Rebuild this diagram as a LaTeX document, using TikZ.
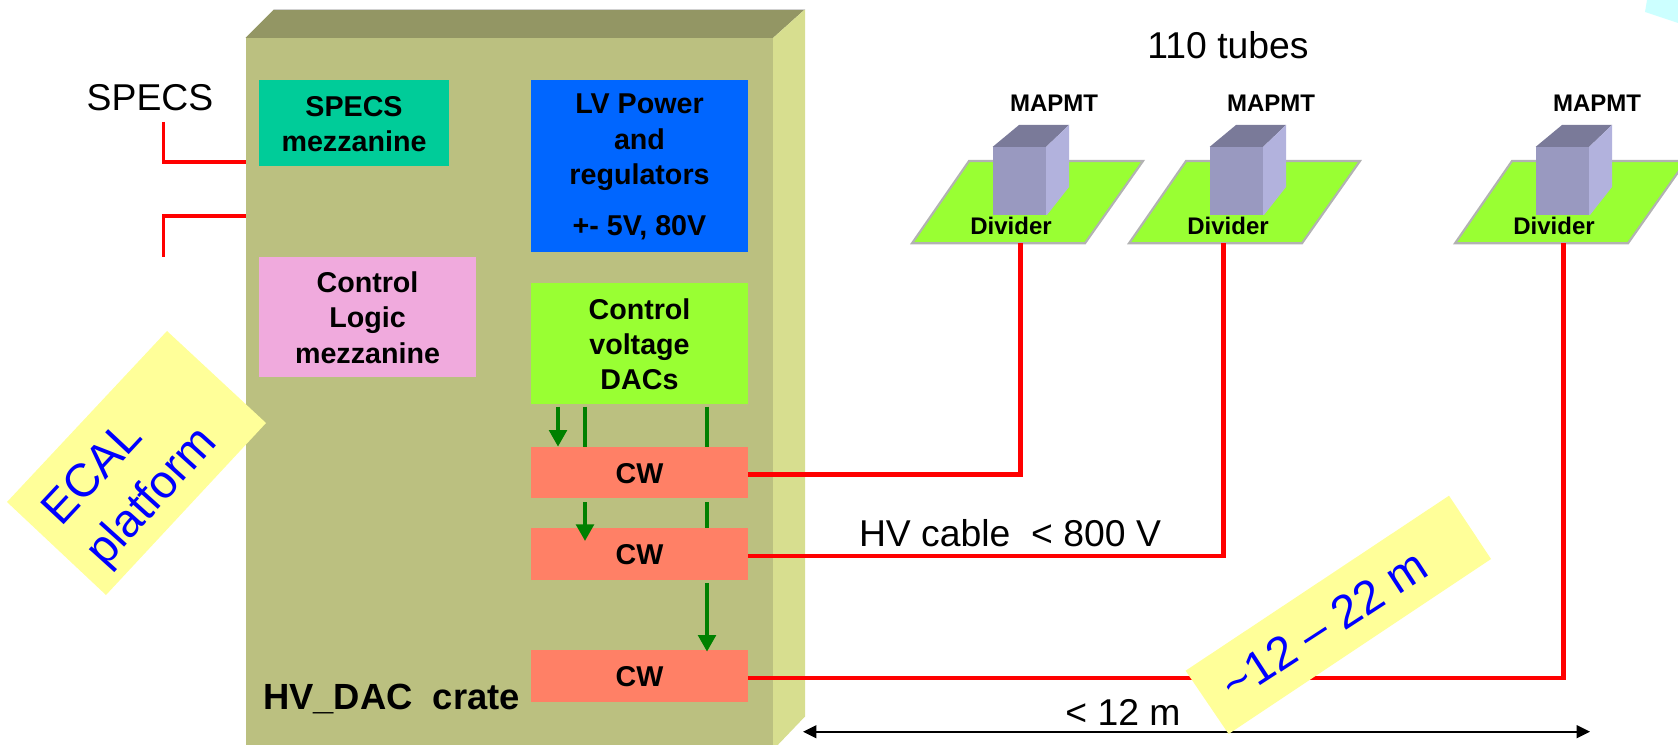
\documentclass[tikz,border=0pt]{standalone}
\usepackage{fontspec}
\setmainfont{Liberation Sans}
\usetikzlibrary{arrows.meta}
\definecolor{cratefront}{RGB}{187,192,128}
\definecolor{cratetop}{RGB}{147,150,100}
\definecolor{crateside}{RGB}{215,222,143}
\definecolor{specsc}{RGB}{0,204,153}
\definecolor{lvc}{RGB}{0,102,255}
\definecolor{logicc}{RGB}{240,170,221}
\definecolor{dacc}{RGB}{153,255,51}
\definecolor{cwc}{RGB}{255,128,102}
\definecolor{notec}{RGB}{255,255,153}
\definecolor{pmtfront}{RGB}{153,153,192}
\definecolor{pmttop}{RGB}{122,122,153}
\definecolor{pmtside}{RGB}{178,178,221}
\definecolor{edgegray}{RGB}{178,178,178}
\definecolor{sigc}{RGB}{0,128,0}
\definecolor{cornerc}{RGB}{204,255,255}
\newcommand{\dn}{\rule{0pt}{16.5pt}}
\tikzset{
  box/.style={inner sep=0pt,align=center,font=\bfseries\fontsize{21.5}{26.5}\selectfont},
  plain/.style={inner sep=0pt,font=\fontsize{28}{33}\selectfont},
  small/.style={inner sep=0pt,font=\bfseries\fontsize{18}{22}\selectfont},
  note/.style={inner sep=0pt,text=blue,font=\fontsize{35}{41}\selectfont},
  cable/.style={draw=red,line width=3.4pt},
  stub/.style={draw=red,line width=2.6pt},
  sig/.style={draw=sigc,line width=3.6pt,shorten <=1.8pt},
  sigtip/.style={sig,-{Triangle[length=12.5pt,width=13pt]}},
  span/.style={draw=black,line width=1.5pt,{Triangle[length=10pt,width=9.5pt]}-{Triangle[length=10pt,width=9.5pt]}}
}
\newcommand{\tubeunit}[3]{%
  \begin{scope}[shift={(#2,0)}]
    \draw[fill=dacc,draw=edgegray,line width=1.6pt] (912,243.3) -- (1085,243.3) -- (1143,161) -- (969,161) -- cycle;
    \fill[pmtfront] (992.5,147) rectangle (1046,215);
    \fill[pmttop] (992.5,147) -- (1019,125) -- (1069,125) -- (1046,147) -- cycle;
    \fill[pmtside] (1046,147) -- (1069,125) -- (1069,187) -- (1047,215) -- (1046,215) -- cycle;
    \node[small] (pmt#1) at (1054,103) {MAPMT};
    \node[small] (div#1) at (1011,225.5) {Divider};
    \coordinate (tap#1) at (#3,243.3);
  \end{scope}}
\begin{document}
\begin{tikzpicture}[x=0.75pt,y=-0.75pt]
\useasboundingbox (0,0) rectangle (1678,745);
\clip (0,0) rectangle (1678,745);
% corner
\fill[cornerc] (1647,0) -- (1645,12) -- (1678,23) -- (1678,0) -- cycle;
% crate
\fill[cratetop] (245.5,38) -- (274,9.3) -- (805,9.3) -- (773,38) -- cycle;
\fill[crateside] (773,38) -- (805,9.3) -- (805,716.5) -- (773,750) -- cycle;
\draw[edgegray!60,line width=0.6pt] (274,9) -- (805,9);
\node[fill=cratefront,inner sep=0pt,minimum width=527.5*0.75pt,minimum height=707*0.75pt,anchor=north west] (crate) at (245.5,38) {};
% boxes
\node[box,fill=specsc,minimum width=190*0.75pt,minimum height=86*0.75pt] (specs) at (354,123) {\dn SPECS\\mezzanine};
\node[box,fill=lvc,minimum width=217*0.75pt,minimum height=172*0.75pt] (lv) at (639.5,166) {\dn LV Power\\and\\regulators\\[12pt]+- 5V, 80V};
\node[box,fill=logicc,minimum width=217*0.75pt,minimum height=120*0.75pt] (logic) at (367.5,317) {\dn Control\\Logic\\mezzanine};
\node[box,fill=dacc,minimum width=217*0.75pt,minimum height=121*0.75pt] (dac) at (639.5,343.5) {\dn Control\\voltage\\DACs};
\node[box,fill=cwc,minimum width=217*0.75pt,minimum height=51*0.75pt] (cw1) at (639.5,472.5) {\dn CW};
\node[box,fill=cwc,minimum width=217*0.75pt,minimum height=52*0.75pt] (cw2) at (639.5,554) {\dn CW};
\node[box,fill=cwc,minimum width=217*0.75pt,minimum height=52*0.75pt] (cw3) at (639.5,676) {\dn CW};
% green control lines
\coordinate (ga) at (558,0);
\coordinate (gb) at (585,0);
\coordinate (gc) at (707,0);
\draw[sigtip] (ga |- dac.south) -- (ga |- cw1.north);
\draw[sig] (gb |- dac.south) -- (gb |- cw1.north);
\draw[sig] (gc |- dac.south) -- (gc |- cw1.north);
\draw[sigtip,shorten <=3pt,shorten >=-10pt] (gb |- cw1.south) -- (gb |- cw2.north);
\draw[sig,shorten <=3pt] (gc |- cw1.south) -- (gc |- cw2.north);
\draw[sigtip,shorten <=2pt,shorten >=-1.5pt] (gc |- cw2.south) -- (gc |- cw3.north);
% tubes
\tubeunit{a}{0}{1020.6}
\tubeunit{b}{217}{1006.7}
\tubeunit{c}{543}{1020.7}
% span arrow
\coordinate (spanL) at (803,731.7);
\coordinate (spanR) at (1590,731.7);
\draw[span] (spanL) -- (spanR);
% HV cables
\draw[cable] ([yshift=-1.6pt]cw1.east) -| (tapa);
\draw[cable] ([yshift=-1.5pt]cw2.east) -| (tapb);
\draw[cable] ([yshift=-1.5pt]cw3.east) -| (tapc);
% SPECS stubs
\coordinate (stA) at (163.5,122);
\coordinate (stB) at (245.5,162);
\coordinate (stC) at (245.5,216);
\coordinate (stD) at (163.5,257);
\draw[stub] (stA) |- (stB);
\draw[stub] (stC) -| (stD);
% yellow notes
\fill[notec] (167,331) -- (266,423) -- (106,595) -- (7,502) -- cycle;
\fill[notec] (1185.6,670.7) -- (1449,495.7) -- (1491,559) -- (1228.6,734) -- cycle;
\node[note,rotate=47] (ecal) at (91,472) {ECAL};
\node[note,rotate=48] (plat) at (153,498) {platform};
\node[note,rotate=33] (range) at (1324,625) {\textasciitilde12 – 22 m};
% labels
\node[plain] (speclab) at (150,98) {SPECS};
\node[plain] (tubes) at (1228,45) {110 tubes};
\node[plain] (hv) at (1010,533) {HV cable\ \ < 800 V};
\node[plain] (len) at (1123,712) {< 12 m};
\node[plain,font=\bfseries\fontsize{27.3}{32}\selectfont] (cr) at (391.5,699) {HV\_DAC\ \ crate};
\end{tikzpicture}
\end{document}
